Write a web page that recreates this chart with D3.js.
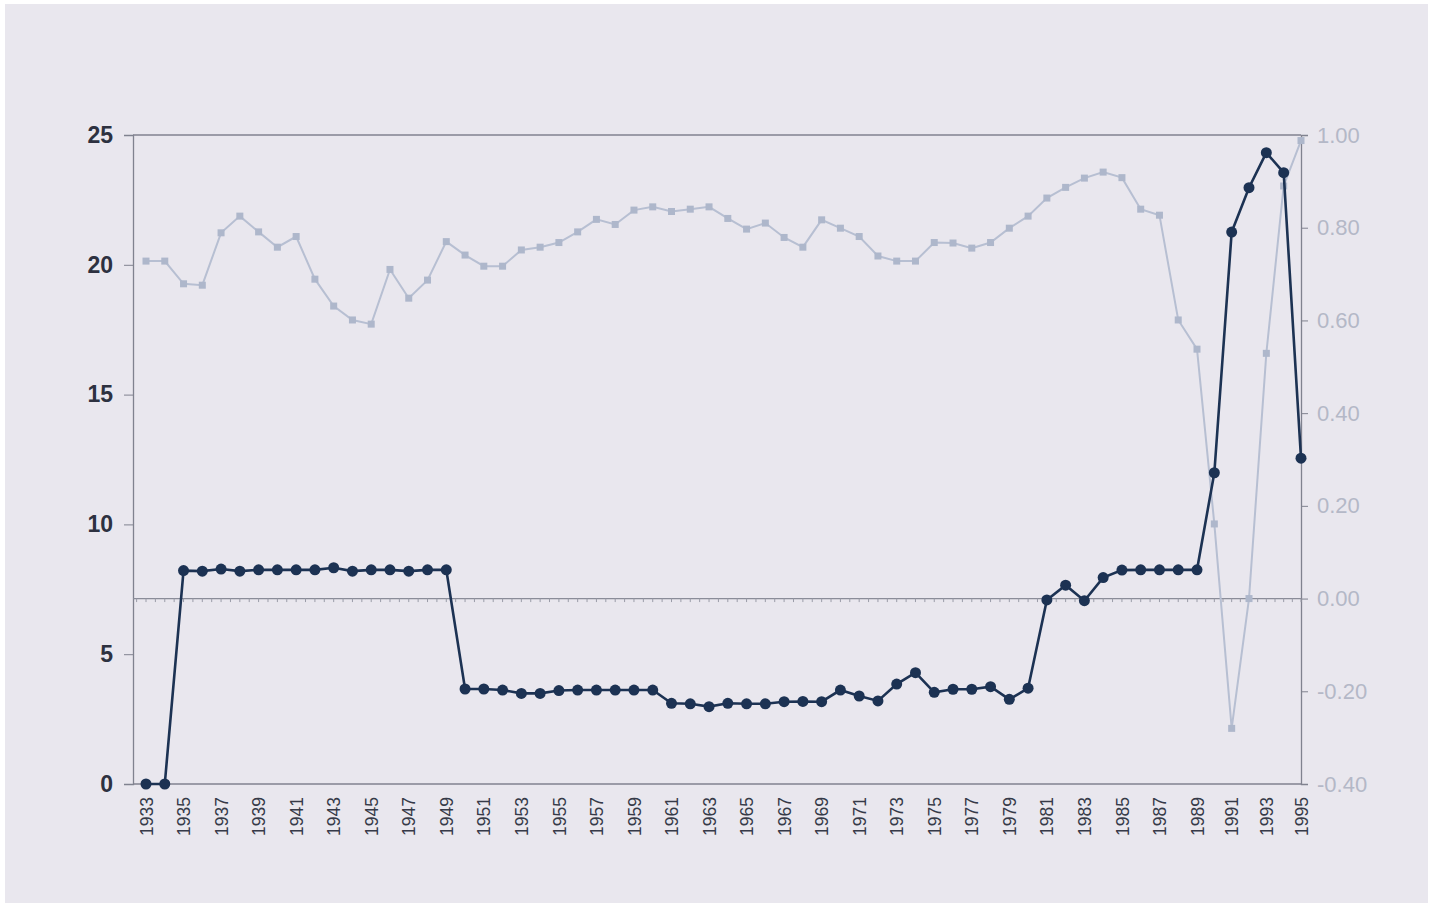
<!DOCTYPE html>
<html><head><meta charset="utf-8">
<script src="https://cdn.jsdelivr.net/npm/d3@7"></script>
<style>
html,body{margin:0;padding:0;background:#ffffff;}
svg{display:block;}
</style></head>
<body>
<svg id="c" width="1435" height="907"></svg>
<script>
const years = d3.range(1933, 1996);
const darkValues = [0,0,8.22,8.2,8.28,8.2,8.25,8.25,8.25,8.25,8.33,8.2,8.25,8.25,8.2,8.25,8.25,
  3.66,3.66,3.62,3.49,3.49,3.6,3.62,3.62,3.62,3.62,3.62,3.11,3.09,2.98,3.11,3.09,3.09,3.17,3.18,3.17,
  3.62,3.39,3.2,3.85,4.29,3.53,3.65,3.65,3.75,3.26,3.69,7.09,7.66,7.06,7.95,8.24,8.25,8.25,8.25,8.25,
  11.99,21.26,22.97,24.32,23.55,12.55];
const lightValues = [0.728,0.728,0.679,0.676,0.789,0.825,0.791,0.758,0.781,0.689,0.631,0.601,0.592,0.710,0.648,0.687,0.770,
  0.741,0.717,0.717,0.752,0.758,0.768,0.791,0.818,0.807,0.838,0.845,0.835,0.840,0.845,0.820,0.797,0.810,0.779,0.758,0.817,
  0.799,0.781,0.739,0.728,0.728,0.768,0.767,0.756,0.768,0.799,0.825,0.864,0.887,0.907,0.920,0.908,0.840,0.827,0.601,0.538,
  0.161,-0.280,0.0,0.529,0.890,0.988];
const leftTicks = [0,5,10,15,20,25];
const rightTicks = [-0.4,-0.2,0,0.2,0.4,0.6,0.8,1.0];
const xLabelYears = years.filter(y => (y - 1933) % 2 === 0);

const svg = d3.select('#c');
svg.append('rect').attr('x',5).attr('y',4).attr('width',1423).attr('height',899).attr('fill','#e9e7ee');

const L = 133, R = 1301, T = 135, B = 784;
// the scanned original is slightly compressed at its right end
const x = d3.scaleLinear().domain([1933, 1989, 1995]).range([146, 1197, 1301]);
const yL = d3.scaleLinear().domain([0, 25]).range([B, T]);
const yR = d3.scaleLinear().domain([-0.4, 1.0]).range([B, T]);

const axisColor = '#80828f';
svg.append('line').attr('x1',L).attr('x2',R).attr('y1',T).attr('y2',T).attr('stroke',axisColor).attr('stroke-width',1.3);
svg.append('line').attr('x1',L).attr('x2',R).attr('y1',B).attr('y2',B).attr('stroke',axisColor).attr('stroke-width',1.3);

const gL = svg.append('g').attr('transform',`translate(${L},0)`)
  .call(d3.axisLeft(yL).tickValues(leftTicks).tickSize(9).tickPadding(11).tickFormat(d3.format('d')));
gL.select('.domain').attr('stroke',axisColor).attr('stroke-width',1.3);
gL.selectAll('.tick line').attr('stroke',axisColor);
gL.selectAll('.tick text').attr('fill','#2d3140').attr('font-family','Liberation Sans, Arial, sans-serif')
  .attr('font-size',23).attr('font-weight','bold');

const fmtR = v => d3.format('.2f')(v).replace('\u2212','-');
const gR = svg.append('g').attr('transform',`translate(${R},0)`)
  .call(d3.axisRight(yR).tickValues(rightTicks).tickSize(7).tickPadding(9).tickFormat(fmtR));
gR.select('.domain').attr('stroke',axisColor).attr('stroke-width',1.3);
gR.selectAll('.tick line').attr('stroke',axisColor);
gR.selectAll('.tick text').attr('fill','#b4b8c7').attr('font-family','Liberation Sans, Arial, sans-serif')
  .attr('font-size',22);

const y0 = yR(0);
svg.append('line').attr('x1',L).attr('x2',R).attr('y1',y0).attr('y2',y0).attr('stroke','#8a8c98').attr('stroke-width',1.2);
const minor = d3.range(1932.5, 1995.01, 0.5);
svg.append('g').selectAll('line').data(minor).join('line')
  .attr('x1',d=>x(d)).attr('x2',d=>x(d)).attr('y1',y0).attr('y2',y0+3.5)
  .attr('stroke','#9a9ca8').attr('stroke-width',1);

const gX = svg.append('g').attr('transform',`translate(0,${B})`)
  .call(d3.axisBottom(x).tickValues(xLabelYears).tickSize(0).tickPadding(0).tickFormat(d3.format('d')));
gX.select('.domain').remove();
gX.selectAll('.tick text')
  .attr('fill','#363a48').attr('font-family','Liberation Sans, Arial, sans-serif').attr('font-size',17.5)
  .attr('text-anchor','end').attr('transform','rotate(-90)').attr('x',-13).attr('y',0).attr('dy','0.35em');

const lightLine = d3.line().x((d,i)=>x(years[i])).y(d=>yR(d));
svg.append('path').datum(lightValues).attr('d',lightLine).attr('fill','none')
  .attr('stroke','#b7bfd2').attr('stroke-width',2);
svg.append('g').selectAll('rect').data(lightValues).join('rect')
  .attr('x',(d,i)=>x(years[i])-3.5).attr('y',d=>yR(d)-3.5).attr('width',7).attr('height',7)
  .attr('fill','#aeb7cb');

const darkLine = d3.line().x((d,i)=>x(years[i])).y(d=>yL(d));
svg.append('path').datum(darkValues).attr('d',darkLine).attr('fill','none')
  .attr('stroke','#1c3253').attr('stroke-width',2.6);
svg.append('g').selectAll('circle').data(darkValues).join('circle')
  .attr('cx',(d,i)=>x(years[i])).attr('cy',d=>yL(d)).attr('r',5.5).attr('fill','#1c3253');
</script>
</body></html>
